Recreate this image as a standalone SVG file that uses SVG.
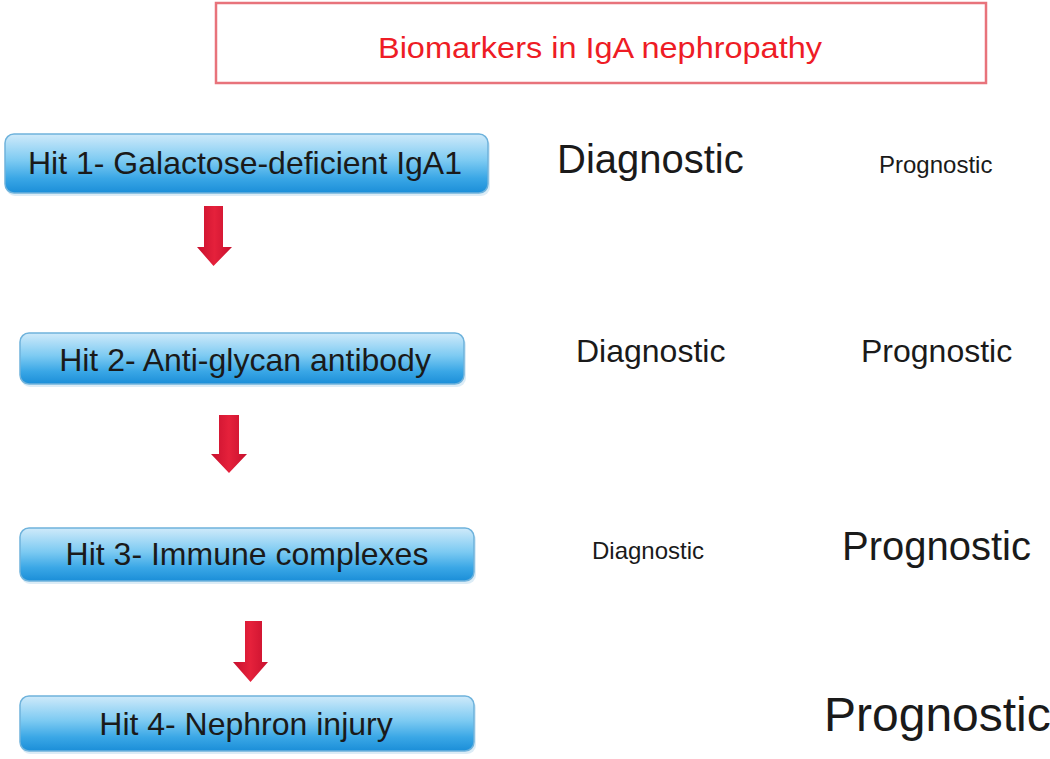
<svg xmlns="http://www.w3.org/2000/svg" width="1050" height="759" viewBox="0 0 1050 759">
<defs>
<linearGradient id="boxg" x1="0" y1="0" x2="0" y2="1">
<stop offset="0" stop-color="#cfeafa"/>
<stop offset="0.45" stop-color="#7ccaf2"/>
<stop offset="0.75" stop-color="#3aa7e6"/>
<stop offset="1" stop-color="#1b8ed8"/>
</linearGradient>
<linearGradient id="arrg" x1="0" y1="0" x2="1" y2="0">
<stop offset="0" stop-color="#c8102e"/>
<stop offset="0.5" stop-color="#e5213b"/>
<stop offset="1" stop-color="#c8102e"/>
</linearGradient>
</defs>
<style>
.box{fill:url(#boxg);stroke:#6fb3dc;stroke-width:1.5}
.shadow{fill:#9cc9e6;opacity:0.35}
.bt{font-family:"Liberation Sans",Arial,sans-serif;font-size:32px;fill:#1a1a1a;text-anchor:middle}
.lbl{font-family:"Liberation Sans",Arial,sans-serif;fill:#1a1a1a}
.arr{fill:url(#arrg)}
</style>
<rect width="1050" height="759" fill="#ffffff"/>
<g id="title">
<rect x="216" y="3" width="770" height="80" fill="#ffffff" stroke="#e8737b" stroke-width="2.5"/>
<text x="600" y="58" font-family="'Liberation Sans',Arial,sans-serif" font-size="30" fill="#ee1c25" text-anchor="middle" textLength="444" lengthAdjust="spacingAndGlyphs">Biomarkers in IgA nephropathy</text>
</g>
<g id="hit1">
<rect class="shadow" x="6" y="137" width="484" height="59" rx="9"/>
<rect class="box" x="5" y="134" width="483" height="59" rx="9"/>
<text class="bt" x="245" y="174">Hit 1- Galactose-deficient IgA1</text>
</g>
<g id="hit2">
<rect class="shadow" x="21" y="336" width="445" height="51" rx="9"/>
<rect class="box" x="20" y="333" width="444" height="51" rx="9"/>
<text class="bt" x="245" y="371">Hit 2- Anti-glycan antibody</text>
</g>
<g id="hit3">
<rect class="shadow" x="21" y="531" width="455" height="53" rx="9"/>
<rect class="box" x="20" y="528" width="454" height="53" rx="9"/>
<text class="bt" x="247" y="565">Hit 3- Immune complexes</text>
</g>
<g id="hit4">
<rect class="shadow" x="21" y="699" width="455" height="55" rx="9"/>
<rect class="box" x="20" y="696" width="454" height="55" rx="9"/>
<text class="bt" x="246" y="735">Hit 4- Nephron injury</text>
</g>
<g id="connectors">
<polygon class="arr" points="204,206 223,206 223,247 232,247 213.5,266 197,247 204,247"/>
<polygon class="arr" points="219,415 239,415 239,454 247,454 229,473 211,454 219,454"/>
<polygon class="arr" points="245,621 262,621 262,662 268,662 250.5,682 233,662 245,662"/>
</g>
<g id="labels">
<text class="lbl" x="557" y="173" font-size="40">Diagnostic</text>
<text class="lbl" x="879" y="173" font-size="24">Prognostic</text>
<text class="lbl" x="576" y="362" font-size="32">Diagnostic</text>
<text class="lbl" x="861" y="362" font-size="32">Prognostic</text>
<text class="lbl" x="592" y="559" font-size="24">Diagnostic</text>
<text class="lbl" x="842" y="560" font-size="40">Prognostic</text>
<text class="lbl" x="824" y="731" font-size="48">Prognostic</text>
</g>
</svg>
